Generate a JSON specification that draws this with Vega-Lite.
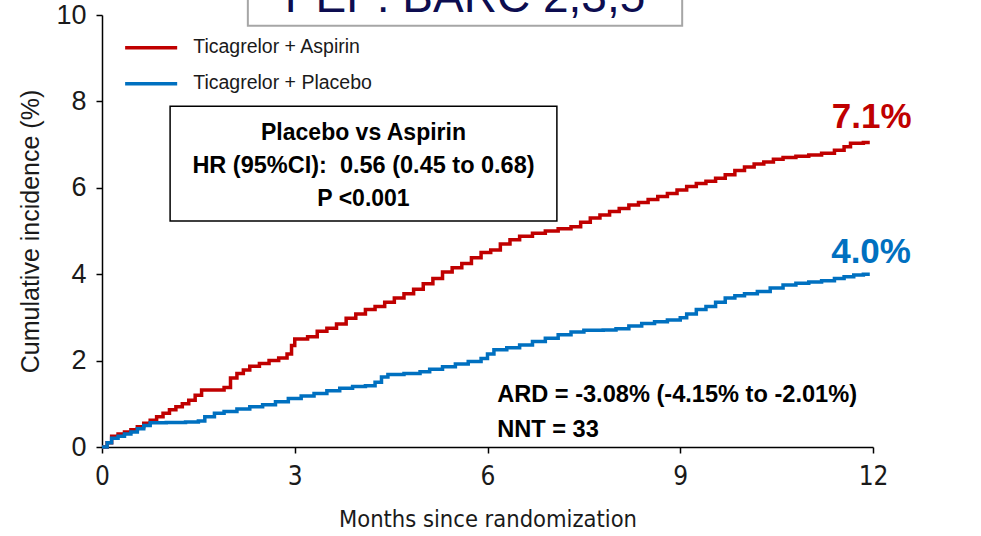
{
  "$schema": "https://vega.github.io/schema/vega-lite/v6.json",
  "width": 771,
  "height": 432,
  "autosize": {"type": "none"},
  "padding": {"left": 102, "top": 15, "right": 108, "bottom": 89},
  "background": "white",
  "data": {"values": [{}]},
  "config": {
    "view": {"stroke": null},
    "font": "Liberation Sans",
    "axis": {
      "grid": false,
      "domainColor": "#000000",
      "domainWidth": 1.5,
      "tickColor": "#000000",
      "tickWidth": 1.5,
      "tickSize": 6,
      "labelColor": "#1a1a1a",
      "titleColor": "#1a1a1a",
      "titleFontWeight": "normal",
      "labelFlush": false,
      "labelOverlap": false,
      "labelBound": false
    }
  },
  "datasets": {
    "curves": [
      {"arm": "Ticagrelor + Aspirin", "month": 0, "pct": 0},
      {"arm": "Ticagrelor + Aspirin", "month": 0.08, "pct": 0.1},
      {"arm": "Ticagrelor + Aspirin", "month": 0.15, "pct": 0.25},
      {"arm": "Ticagrelor + Aspirin", "month": 0.25, "pct": 0.3},
      {"arm": "Ticagrelor + Aspirin", "month": 0.35, "pct": 0.35},
      {"arm": "Ticagrelor + Aspirin", "month": 0.45, "pct": 0.4},
      {"arm": "Ticagrelor + Aspirin", "month": 0.55, "pct": 0.47},
      {"arm": "Ticagrelor + Aspirin", "month": 0.65, "pct": 0.55},
      {"arm": "Ticagrelor + Aspirin", "month": 0.75, "pct": 0.62},
      {"arm": "Ticagrelor + Aspirin", "month": 0.85, "pct": 0.7},
      {"arm": "Ticagrelor + Aspirin", "month": 0.95, "pct": 0.78},
      {"arm": "Ticagrelor + Aspirin", "month": 1.05, "pct": 0.86},
      {"arm": "Ticagrelor + Aspirin", "month": 1.15, "pct": 0.93},
      {"arm": "Ticagrelor + Aspirin", "month": 1.25, "pct": 1.0},
      {"arm": "Ticagrelor + Aspirin", "month": 1.35, "pct": 1.08},
      {"arm": "Ticagrelor + Aspirin", "month": 1.45, "pct": 1.2},
      {"arm": "Ticagrelor + Aspirin", "month": 1.55, "pct": 1.32},
      {"arm": "Ticagrelor + Aspirin", "month": 1.9, "pct": 1.38},
      {"arm": "Ticagrelor + Aspirin", "month": 2.0, "pct": 1.6},
      {"arm": "Ticagrelor + Aspirin", "month": 2.1, "pct": 1.7},
      {"arm": "Ticagrelor + Aspirin", "month": 2.2, "pct": 1.78},
      {"arm": "Ticagrelor + Aspirin", "month": 2.3, "pct": 1.87},
      {"arm": "Ticagrelor + Aspirin", "month": 2.45, "pct": 1.93},
      {"arm": "Ticagrelor + Aspirin", "month": 2.6, "pct": 2.0},
      {"arm": "Ticagrelor + Aspirin", "month": 2.75, "pct": 2.06},
      {"arm": "Ticagrelor + Aspirin", "month": 2.88, "pct": 2.15},
      {"arm": "Ticagrelor + Aspirin", "month": 2.95, "pct": 2.35},
      {"arm": "Ticagrelor + Aspirin", "month": 3.0, "pct": 2.5},
      {"arm": "Ticagrelor + Aspirin", "month": 3.2, "pct": 2.55},
      {"arm": "Ticagrelor + Aspirin", "month": 3.35, "pct": 2.68},
      {"arm": "Ticagrelor + Aspirin", "month": 3.5, "pct": 2.75},
      {"arm": "Ticagrelor + Aspirin", "month": 3.65, "pct": 2.85},
      {"arm": "Ticagrelor + Aspirin", "month": 3.8, "pct": 2.98},
      {"arm": "Ticagrelor + Aspirin", "month": 3.95, "pct": 3.08},
      {"arm": "Ticagrelor + Aspirin", "month": 4.1, "pct": 3.18},
      {"arm": "Ticagrelor + Aspirin", "month": 4.25, "pct": 3.25},
      {"arm": "Ticagrelor + Aspirin", "month": 4.4, "pct": 3.35},
      {"arm": "Ticagrelor + Aspirin", "month": 4.55, "pct": 3.45},
      {"arm": "Ticagrelor + Aspirin", "month": 4.7, "pct": 3.55},
      {"arm": "Ticagrelor + Aspirin", "month": 4.85, "pct": 3.65},
      {"arm": "Ticagrelor + Aspirin", "month": 5.0, "pct": 3.78},
      {"arm": "Ticagrelor + Aspirin", "month": 5.15, "pct": 3.9},
      {"arm": "Ticagrelor + Aspirin", "month": 5.3, "pct": 4.05},
      {"arm": "Ticagrelor + Aspirin", "month": 5.45, "pct": 4.15},
      {"arm": "Ticagrelor + Aspirin", "month": 5.6, "pct": 4.25},
      {"arm": "Ticagrelor + Aspirin", "month": 5.75, "pct": 4.38},
      {"arm": "Ticagrelor + Aspirin", "month": 5.9, "pct": 4.5},
      {"arm": "Ticagrelor + Aspirin", "month": 6.05, "pct": 4.56},
      {"arm": "Ticagrelor + Aspirin", "month": 6.2, "pct": 4.7},
      {"arm": "Ticagrelor + Aspirin", "month": 6.35, "pct": 4.8},
      {"arm": "Ticagrelor + Aspirin", "month": 6.5, "pct": 4.88},
      {"arm": "Ticagrelor + Aspirin", "month": 6.7, "pct": 4.95},
      {"arm": "Ticagrelor + Aspirin", "month": 6.9, "pct": 5.0},
      {"arm": "Ticagrelor + Aspirin", "month": 7.1, "pct": 5.05},
      {"arm": "Ticagrelor + Aspirin", "month": 7.3, "pct": 5.1},
      {"arm": "Ticagrelor + Aspirin", "month": 7.45, "pct": 5.2},
      {"arm": "Ticagrelor + Aspirin", "month": 7.6, "pct": 5.3},
      {"arm": "Ticagrelor + Aspirin", "month": 7.75, "pct": 5.37},
      {"arm": "Ticagrelor + Aspirin", "month": 7.9, "pct": 5.45},
      {"arm": "Ticagrelor + Aspirin", "month": 8.05, "pct": 5.52},
      {"arm": "Ticagrelor + Aspirin", "month": 8.2, "pct": 5.6},
      {"arm": "Ticagrelor + Aspirin", "month": 8.35, "pct": 5.66},
      {"arm": "Ticagrelor + Aspirin", "month": 8.5, "pct": 5.73},
      {"arm": "Ticagrelor + Aspirin", "month": 8.65, "pct": 5.8},
      {"arm": "Ticagrelor + Aspirin", "month": 8.8, "pct": 5.87},
      {"arm": "Ticagrelor + Aspirin", "month": 8.95, "pct": 5.95},
      {"arm": "Ticagrelor + Aspirin", "month": 9.1, "pct": 6.03},
      {"arm": "Ticagrelor + Aspirin", "month": 9.25, "pct": 6.1},
      {"arm": "Ticagrelor + Aspirin", "month": 9.4, "pct": 6.15},
      {"arm": "Ticagrelor + Aspirin", "month": 9.55, "pct": 6.22},
      {"arm": "Ticagrelor + Aspirin", "month": 9.7, "pct": 6.3},
      {"arm": "Ticagrelor + Aspirin", "month": 9.85, "pct": 6.4},
      {"arm": "Ticagrelor + Aspirin", "month": 10.0, "pct": 6.48},
      {"arm": "Ticagrelor + Aspirin", "month": 10.15, "pct": 6.55},
      {"arm": "Ticagrelor + Aspirin", "month": 10.3, "pct": 6.6},
      {"arm": "Ticagrelor + Aspirin", "month": 10.45, "pct": 6.66},
      {"arm": "Ticagrelor + Aspirin", "month": 10.6, "pct": 6.7},
      {"arm": "Ticagrelor + Aspirin", "month": 10.8, "pct": 6.73},
      {"arm": "Ticagrelor + Aspirin", "month": 11.0, "pct": 6.76},
      {"arm": "Ticagrelor + Aspirin", "month": 11.2, "pct": 6.8},
      {"arm": "Ticagrelor + Aspirin", "month": 11.4, "pct": 6.87},
      {"arm": "Ticagrelor + Aspirin", "month": 11.55, "pct": 6.95},
      {"arm": "Ticagrelor + Aspirin", "month": 11.65, "pct": 7.03},
      {"arm": "Ticagrelor + Aspirin", "month": 11.85, "pct": 7.05},
      {"arm": "Ticagrelor + Aspirin", "month": 11.95, "pct": 7.05},
      {"arm": "Ticagrelor + Placebo", "month": 0, "pct": 0},
      {"arm": "Ticagrelor + Placebo", "month": 0.08, "pct": 0.1},
      {"arm": "Ticagrelor + Placebo", "month": 0.15, "pct": 0.2},
      {"arm": "Ticagrelor + Placebo", "month": 0.25, "pct": 0.25},
      {"arm": "Ticagrelor + Placebo", "month": 0.35, "pct": 0.3},
      {"arm": "Ticagrelor + Placebo", "month": 0.45, "pct": 0.35},
      {"arm": "Ticagrelor + Placebo", "month": 0.55, "pct": 0.42},
      {"arm": "Ticagrelor + Placebo", "month": 0.65, "pct": 0.5},
      {"arm": "Ticagrelor + Placebo", "month": 0.75, "pct": 0.56},
      {"arm": "Ticagrelor + Placebo", "month": 1.0, "pct": 0.57},
      {"arm": "Ticagrelor + Placebo", "month": 1.3, "pct": 0.58},
      {"arm": "Ticagrelor + Placebo", "month": 1.5, "pct": 0.6},
      {"arm": "Ticagrelor + Placebo", "month": 1.6, "pct": 0.7},
      {"arm": "Ticagrelor + Placebo", "month": 1.75, "pct": 0.78},
      {"arm": "Ticagrelor + Placebo", "month": 1.9, "pct": 0.82},
      {"arm": "Ticagrelor + Placebo", "month": 2.1, "pct": 0.88},
      {"arm": "Ticagrelor + Placebo", "month": 2.3, "pct": 0.93},
      {"arm": "Ticagrelor + Placebo", "month": 2.5, "pct": 0.98},
      {"arm": "Ticagrelor + Placebo", "month": 2.7, "pct": 1.05},
      {"arm": "Ticagrelor + Placebo", "month": 2.9, "pct": 1.12},
      {"arm": "Ticagrelor + Placebo", "month": 3.1, "pct": 1.18},
      {"arm": "Ticagrelor + Placebo", "month": 3.3, "pct": 1.24},
      {"arm": "Ticagrelor + Placebo", "month": 3.5, "pct": 1.3},
      {"arm": "Ticagrelor + Placebo", "month": 3.7, "pct": 1.36},
      {"arm": "Ticagrelor + Placebo", "month": 3.9, "pct": 1.4},
      {"arm": "Ticagrelor + Placebo", "month": 4.1, "pct": 1.42},
      {"arm": "Ticagrelor + Placebo", "month": 4.25, "pct": 1.5},
      {"arm": "Ticagrelor + Placebo", "month": 4.35, "pct": 1.62},
      {"arm": "Ticagrelor + Placebo", "month": 4.45, "pct": 1.68},
      {"arm": "Ticagrelor + Placebo", "month": 4.7, "pct": 1.7},
      {"arm": "Ticagrelor + Placebo", "month": 4.95, "pct": 1.74},
      {"arm": "Ticagrelor + Placebo", "month": 5.1, "pct": 1.8},
      {"arm": "Ticagrelor + Placebo", "month": 5.3, "pct": 1.86},
      {"arm": "Ticagrelor + Placebo", "month": 5.5, "pct": 1.92},
      {"arm": "Ticagrelor + Placebo", "month": 5.7, "pct": 1.98},
      {"arm": "Ticagrelor + Placebo", "month": 5.9, "pct": 2.05},
      {"arm": "Ticagrelor + Placebo", "month": 6.0, "pct": 2.15},
      {"arm": "Ticagrelor + Placebo", "month": 6.1, "pct": 2.25},
      {"arm": "Ticagrelor + Placebo", "month": 6.3, "pct": 2.3},
      {"arm": "Ticagrelor + Placebo", "month": 6.5, "pct": 2.36},
      {"arm": "Ticagrelor + Placebo", "month": 6.7, "pct": 2.44},
      {"arm": "Ticagrelor + Placebo", "month": 6.9, "pct": 2.52},
      {"arm": "Ticagrelor + Placebo", "month": 7.1, "pct": 2.6},
      {"arm": "Ticagrelor + Placebo", "month": 7.3, "pct": 2.66},
      {"arm": "Ticagrelor + Placebo", "month": 7.5, "pct": 2.7},
      {"arm": "Ticagrelor + Placebo", "month": 7.8, "pct": 2.71},
      {"arm": "Ticagrelor + Placebo", "month": 8.0, "pct": 2.74},
      {"arm": "Ticagrelor + Placebo", "month": 8.2, "pct": 2.8},
      {"arm": "Ticagrelor + Placebo", "month": 8.4, "pct": 2.86},
      {"arm": "Ticagrelor + Placebo", "month": 8.6, "pct": 2.9},
      {"arm": "Ticagrelor + Placebo", "month": 8.8, "pct": 2.94},
      {"arm": "Ticagrelor + Placebo", "month": 9.0, "pct": 2.99},
      {"arm": "Ticagrelor + Placebo", "month": 9.1, "pct": 3.08},
      {"arm": "Ticagrelor + Placebo", "month": 9.25, "pct": 3.18},
      {"arm": "Ticagrelor + Placebo", "month": 9.4, "pct": 3.25},
      {"arm": "Ticagrelor + Placebo", "month": 9.55, "pct": 3.35},
      {"arm": "Ticagrelor + Placebo", "month": 9.7, "pct": 3.45},
      {"arm": "Ticagrelor + Placebo", "month": 9.85, "pct": 3.5},
      {"arm": "Ticagrelor + Placebo", "month": 10.0, "pct": 3.55},
      {"arm": "Ticagrelor + Placebo", "month": 10.2, "pct": 3.6},
      {"arm": "Ticagrelor + Placebo", "month": 10.4, "pct": 3.68},
      {"arm": "Ticagrelor + Placebo", "month": 10.6, "pct": 3.75},
      {"arm": "Ticagrelor + Placebo", "month": 10.8, "pct": 3.79},
      {"arm": "Ticagrelor + Placebo", "month": 11.0, "pct": 3.82},
      {"arm": "Ticagrelor + Placebo", "month": 11.2, "pct": 3.85},
      {"arm": "Ticagrelor + Placebo", "month": 11.4, "pct": 3.9},
      {"arm": "Ticagrelor + Placebo", "month": 11.55, "pct": 3.94},
      {"arm": "Ticagrelor + Placebo", "month": 11.7, "pct": 3.98},
      {"arm": "Ticagrelor + Placebo", "month": 11.85, "pct": 4.0},
      {"arm": "Ticagrelor + Placebo", "month": 11.95, "pct": 4.0}
    ]
  },
  "layer": [
    {
      "data": {"name": "curves"},
      "mark": {"type": "line", "interpolate": "step-after", "strokeWidth": 3.5, "clip": false},
      "encoding": {
        "x": {
          "field": "month", "type": "quantitative",
          "scale": {"domain": [0, 12], "nice": false, "zero": false},
          "axis": {
            "values": [0, 3, 6, 9, 12],
            "format": "d",
            "title": "Months since randomization",
            "labelFont": "Liberation Sans Narrow, DejaVu Sans Condensed, Liberation Sans, sans-serif",
            "labelFontSize": 26,
            "labelPadding": 10,
            "titleFont": "Liberation Sans Narrow, DejaVu Sans Condensed, Liberation Sans, sans-serif",
            "titleFontSize": 23.5,
            "titlePadding": 18
          }
        },
        "y": {
          "field": "pct", "type": "quantitative",
          "scale": {"domain": [0, 10], "nice": false},
          "axis": {
            "values": [0, 2, 4, 6, 8, 10],
            "format": "d",
            "title": "Cumulative incidence (%)",
            "labelFontSize": 27,
            "labelPadding": 10,
            "titleFontSize": 25,
            "titlePadding": 12
          }
        },
        "color": {
          "field": "arm", "type": "nominal",
          "scale": {"domain": ["Ticagrelor + Aspirin", "Ticagrelor + Placebo"], "range": ["#c00000", "#0070c0"]},
          "legend": null
        }
      }
    },
    {
      "mark": {"type": "rect", "fill": "white", "stroke": "#a6a6a6", "strokeWidth": 2},
      "encoding": {
        "x": {"datum": 2.27, "type": "quantitative", "scale": {"domain": [0, 12]}},
        "x2": {"datum": 9.03},
        "y": {"datum": 9.75, "type": "quantitative", "scale": {"domain": [0, 10]}},
        "y2": {"datum": 11.5}
      }
    },
    {
      "mark": {"type": "text", "fontSize": 46, "color": "#0d0d50", "align": "center", "baseline": "alphabetic"},
      "encoding": {
        "x": {"datum": 5.65, "type": "quantitative", "scale": {"domain": [0, 12]}},
        "y": {"datum": 10.07, "type": "quantitative", "scale": {"domain": [0, 10]}},
        "text": {"value": "PEP: BARC 2,3,5"}
      }
    },
    {
      "mark": {"type": "rule", "stroke": "#c00000", "strokeWidth": 3.5},
      "encoding": {
        "x": {"datum": 0.36, "type": "quantitative", "scale": {"domain": [0, 12]}},
        "x2": {"datum": 1.17},
        "y": {"datum": 9.24, "type": "quantitative", "scale": {"domain": [0, 10]}}
      }
    },
    {
      "mark": {"type": "rule", "stroke": "#0070c0", "strokeWidth": 3.5},
      "encoding": {
        "x": {"datum": 0.36, "type": "quantitative", "scale": {"domain": [0, 12]}},
        "x2": {"datum": 1.17},
        "y": {"datum": 8.41, "type": "quantitative", "scale": {"domain": [0, 10]}}
      }
    },
    {
      "mark": {"type": "text", "fontSize": 19.5, "color": "#1a1a1a", "align": "left", "baseline": "middle"},
      "encoding": {
        "x": {"datum": 1.42, "type": "quantitative", "scale": {"domain": [0, 12]}},
        "y": {"datum": 9.25, "type": "quantitative", "scale": {"domain": [0, 10]}},
        "text": {"value": "Ticagrelor + Aspirin"}
      }
    },
    {
      "mark": {"type": "text", "fontSize": 19.5, "color": "#1a1a1a", "align": "left", "baseline": "middle"},
      "encoding": {
        "x": {"datum": 1.42, "type": "quantitative", "scale": {"domain": [0, 12]}},
        "y": {"datum": 8.42, "type": "quantitative", "scale": {"domain": [0, 10]}},
        "text": {"value": "Ticagrelor + Placebo"}
      }
    },
    {
      "mark": {"type": "rect", "fill": "white", "stroke": "#000000", "strokeWidth": 1.5},
      "encoding": {
        "x": {"datum": 1.06, "type": "quantitative", "scale": {"domain": [0, 12]}},
        "x2": {"datum": 7.08},
        "y": {"datum": 7.89, "type": "quantitative", "scale": {"domain": [0, 10]}},
        "y2": {"datum": 5.23}
      }
    },
    {
      "mark": {"type": "text", "fontSize": 23, "fontWeight": "bold", "color": "#000000", "align": "center", "baseline": "middle"},
      "encoding": {
        "x": {"datum": 4.07, "type": "quantitative", "scale": {"domain": [0, 12]}},
        "y": {"datum": 7.27, "type": "quantitative", "scale": {"domain": [0, 10]}},
        "text": {"value": "Placebo vs Aspirin"}
      }
    },
    {
      "mark": {"type": "text", "fontSize": 23.5, "fontWeight": "bold", "color": "#000000", "align": "center", "baseline": "middle"},
      "encoding": {
        "x": {"datum": 4.07, "type": "quantitative", "scale": {"domain": [0, 12]}},
        "y": {"datum": 6.5, "type": "quantitative", "scale": {"domain": [0, 10]}},
        "text": {"value": "HR (95%CI):\u00a0 0.56 (0.45 to 0.68)"}
      }
    },
    {
      "mark": {"type": "text", "fontSize": 23, "fontWeight": "bold", "color": "#000000", "align": "center", "baseline": "middle"},
      "encoding": {
        "x": {"datum": 4.07, "type": "quantitative", "scale": {"domain": [0, 12]}},
        "y": {"datum": 5.74, "type": "quantitative", "scale": {"domain": [0, 10]}},
        "text": {"value": "P <0.001"}
      }
    },
    {
      "mark": {"type": "text", "fontSize": 23.6, "fontWeight": "bold", "color": "#000000", "align": "left", "baseline": "middle"},
      "encoding": {
        "x": {"datum": 6.15, "type": "quantitative", "scale": {"domain": [0, 12]}},
        "y": {"datum": 1.2, "type": "quantitative", "scale": {"domain": [0, 10]}},
        "text": {"value": "ARD = -3.08% (-4.15% to -2.01%)"}
      }
    },
    {
      "mark": {"type": "text", "fontSize": 23.6, "fontWeight": "bold", "color": "#000000", "align": "left", "baseline": "middle"},
      "encoding": {
        "x": {"datum": 6.15, "type": "quantitative", "scale": {"domain": [0, 12]}},
        "y": {"datum": 0.39, "type": "quantitative", "scale": {"domain": [0, 10]}},
        "text": {"value": "NNT = 33"}
      }
    },
    {
      "mark": {"type": "text", "fontSize": 35, "fontWeight": "bold", "color": "#c00000", "align": "center", "baseline": "middle"},
      "encoding": {
        "x": {"datum": 11.98, "type": "quantitative", "scale": {"domain": [0, 12]}},
        "y": {"datum": 7.64, "type": "quantitative", "scale": {"domain": [0, 10]}},
        "text": {"value": "7.1%"}
      }
    },
    {
      "mark": {"type": "text", "fontSize": 35, "fontWeight": "bold", "color": "#0070c0", "align": "center", "baseline": "middle"},
      "encoding": {
        "x": {"datum": 11.97, "type": "quantitative", "scale": {"domain": [0, 12]}},
        "y": {"datum": 4.51, "type": "quantitative", "scale": {"domain": [0, 10]}},
        "text": {"value": "4.0%"}
      }
    }
  ]
}
